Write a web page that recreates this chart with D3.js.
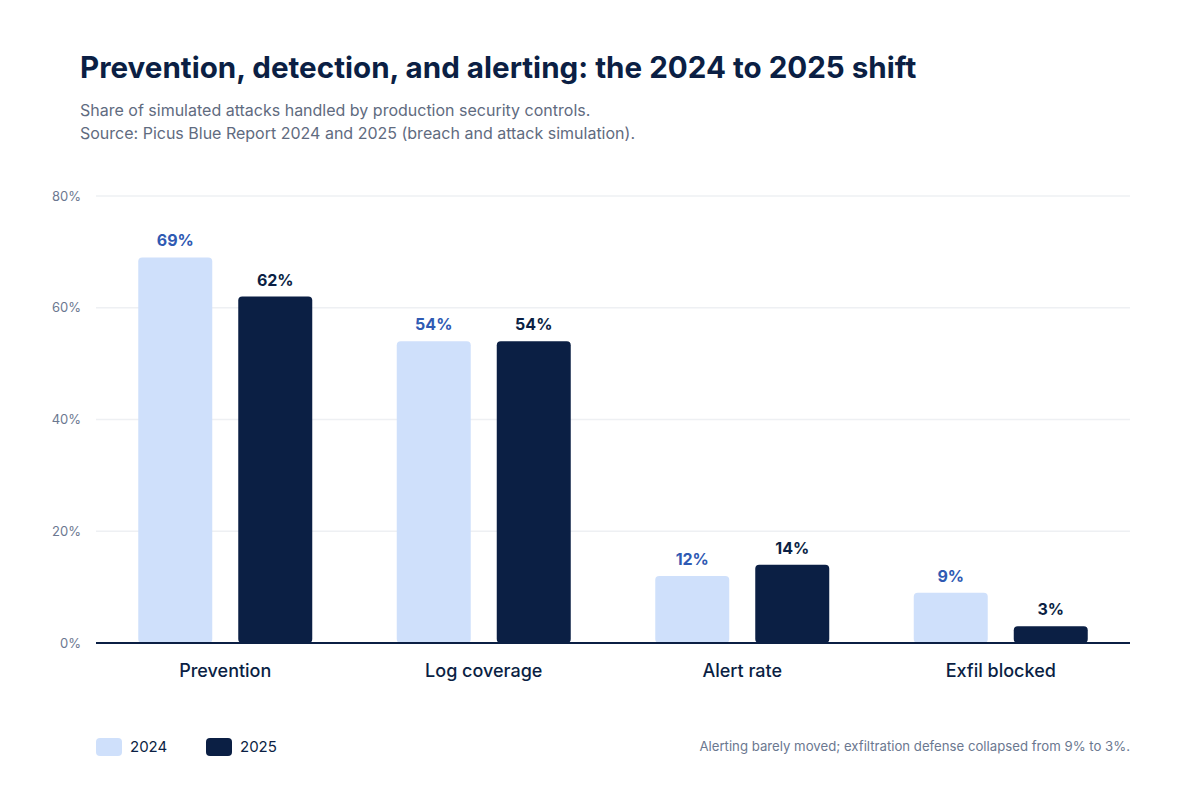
<!DOCTYPE html>
<html>
<head>
<meta charset="utf-8">
<script src="https://cdn.jsdelivr.net/npm/d3@7"></script>
<style>
  body { margin: 0; background: #fff; }
  svg { display: block; font-family: "Inter", "Liberation Sans", sans-serif; }
</style>
</head>
<body>
<div id="chart"></div>
<script>
const categories = ["Prevention", "Log coverage", "Alert rate", "Exfil blocked"];
const years = ["2024", "2025"];
const values2024 = [69, 54, 12, 9];
const values2025 = [62, 54, 14, 3];
const yTicks = [0, 20, 40, 60, 80];

const width = 1200;
const height = 800;
const margin = { top: 196, right: 70, bottom: 157, left: 96 };

const colors = { "2024": "#cfe0fb", "2025": "#0b1f44" };
const labelColors = { "2024": "#2f5ab3", "2025": "#0b1f44" };

const rows = categories.map((c, i) => ({
  category: c,
  bars: [
    { year: "2024", value: values2024[i] },
    { year: "2025", value: values2025[i] }
  ]
}));

const svg = d3.select("#chart")
  .append("svg")
  .attr("width", width)
  .attr("height", height);

// title block
svg.append("text")
  .attr("x", 80).attr("y", 78)
  .attr("fill", "#0b1f44")
  .attr("font-size", 29.6).attr("font-weight", 700)
  .text("Prevention, detection, and alerting: the 2024 to 2025 shift");

svg.append("text")
  .attr("x", 80).attr("y", 116)
  .attr("fill", "#5f6b80").attr("font-size", 16)
  .text("Share of simulated attacks handled by production security controls.");

svg.append("text")
  .attr("x", 80).attr("y", 139)
  .attr("fill", "#5f6b80").attr("font-size", 16)
  .text("Source: Picus Blue Report 2024 and 2025 (breach and attack simulation).");

const x0 = d3.scaleBand()
  .domain(categories)
  .range([margin.left, width - margin.right])
  .paddingInner(0)
  .paddingOuter(0);

const x1 = d3.scaleBand()
  .domain(years)
  .range([42.25, x0.bandwidth() - 42.25])
  .paddingInner(0.26);

const y = d3.scaleLinear()
  .domain([0, 80])
  .range([height - margin.bottom, margin.top]);

// gridlines
svg.append("g")
  .selectAll("line")
  .data(yTicks.filter((d) => d > 0))
  .join("line")
  .attr("x1", margin.left)
  .attr("x2", width - margin.right)
  .attr("y1", (d) => y(d))
  .attr("y2", (d) => y(d))
  .attr("stroke", "#eef0f3")
  .attr("stroke-width", 1.5);

// y tick labels
svg.append("g")
  .selectAll("text")
  .data(yTicks)
  .join("text")
  .attr("x", 81)
  .attr("y", (d) => y(d))
  .attr("dy", "0.35em")
  .attr("text-anchor", "end")
  .attr("fill", "#6b7890")
  .attr("font-size", 13)
  .text((d) => d + "%");

// bars
const groups = svg.append("g")
  .selectAll("g")
  .data(rows)
  .join("g")
  .attr("transform", (d) => `translate(${x0(d.category)},0)`);

groups.selectAll("rect")
  .data((d) => d.bars)
  .join("rect")
  .attr("x", (d) => x1(d.year))
  .attr("y", (d) => y(d.value))
  .attr("width", x1.bandwidth())
  .attr("height", (d) => y(0) - y(d.value))
  .attr("rx", 4)
  .attr("fill", (d) => colors[d.year]);

groups.selectAll("text.value")
  .data((d) => d.bars)
  .join("text")
  .attr("class", "value")
  .attr("x", (d) => x1(d.year) + x1.bandwidth() / 2)
  .attr("y", (d) => y(d.value) - 11)
  .attr("text-anchor", "middle")
  .attr("fill", (d) => labelColors[d.year])
  .attr("font-size", 16)
  .attr("font-weight", 700)
  .text((d) => d.value + "%");

// baseline
svg.append("line")
  .attr("x1", margin.left)
  .attr("x2", width - margin.right)
  .attr("y1", y(0))
  .attr("y2", y(0))
  .attr("stroke", "#0b1f44")
  .attr("stroke-width", 2);

// category labels
svg.append("g")
  .selectAll("text")
  .data(categories)
  .join("text")
  .attr("x", (d) => x0(d) + x0.bandwidth() / 2)
  .attr("y", 677)
  .attr("text-anchor", "middle")
  .attr("fill", "#0b1f44")
  .attr("font-size", 18)
  .attr("font-weight", 500)
  .text((d) => d);

// legend
const legend = svg.append("g")
  .selectAll("g")
  .data(years)
  .join("g")
  .attr("transform", (d, i) => `translate(${96 + i * 110},738)`);

legend.append("rect")
  .attr("width", 26)
  .attr("height", 18)
  .attr("rx", 4)
  .attr("fill", (d) => colors[d]);

legend.append("text")
  .attr("x", 34)
  .attr("y", 9)
  .attr("dy", "0.35em")
  .attr("fill", "#0b1f44")
  .attr("font-size", 15)
  .text((d) => d);

svg.append("text")
  .attr("x", width - margin.right)
  .attr("y", 751)
  .attr("text-anchor", "end")
  .attr("fill", "#6b7890")
  .attr("font-size", 13.2)
  .text("Alerting barely moved; exfiltration defense collapsed from 9% to 3%.");
</script>
</body>
</html>
